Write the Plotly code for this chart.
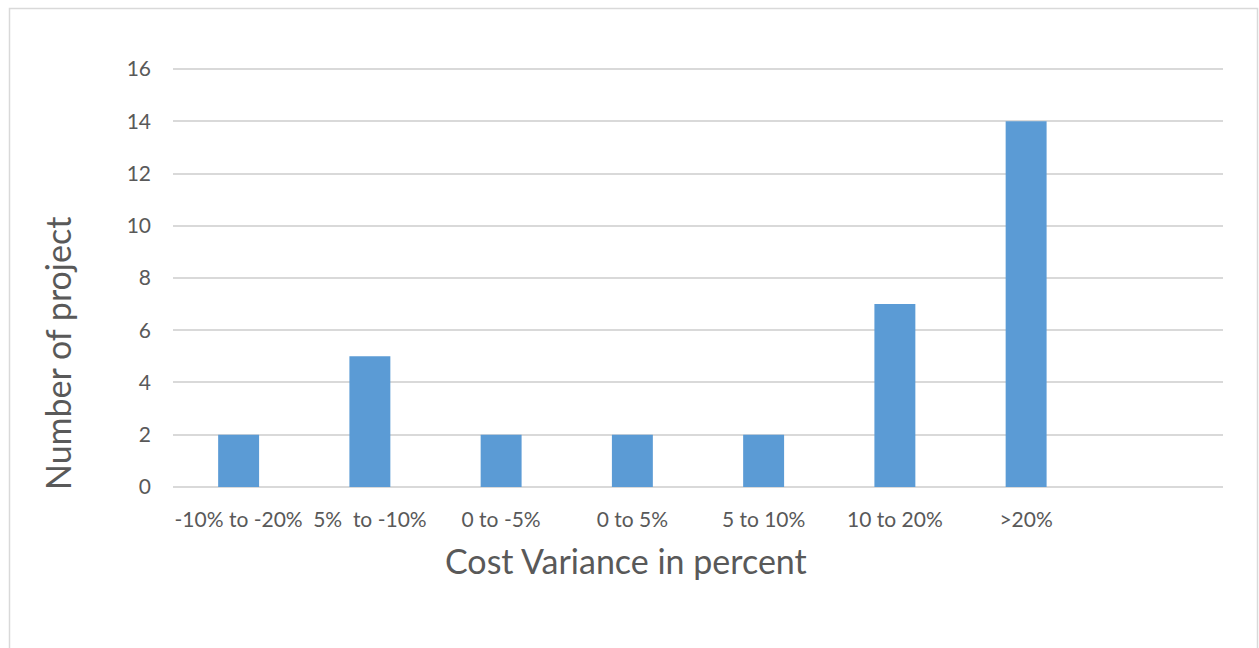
import plotly.graph_objects as go

# Cost variance buckets and number of projects in each
categories = ["-10% to -20%", "5%\u00a0\u00a0to -10%", "0 to -5%", "0 to 5%",
              "5 to 10%", "10 to 20%", ">20%", " "]
projects = [2, 5, 2, 2, 2, 7, 14, None]
y_ticks = [0, 2, 4, 6, 8, 10, 12, 14, 16]

W, H = 1259, 648
L, R, T, B = 173, 36, 68, 160
pw, ph = W - L - R, H - T - B


def px_x(x):
    return (x - L) / pw


def px_y(y):
    return (H - B - y) / ph


title_font = dict(size=34, color="#595959", family="Lato, Open Sans, sans-serif")

fig = go.Figure(go.Bar(
    x=categories, y=projects,
    marker=dict(color="#5b9bd5", line=dict(width=0)),
    hoverinfo="x+y",
))

fig.update_layout(
    width=W, height=H,
    margin=dict(l=L, r=R, t=T, b=B),
    paper_bgcolor="white", plot_bgcolor="white",
    bargap=0.688,
    showlegend=False,
    font=dict(family="Lato, Open Sans, sans-serif", color="#595959"),
    xaxis=dict(
        type="category",
        showgrid=False, zeroline=False, showline=False, ticks="",
        tickfont=dict(size=21, color="#595959"),
        ticklabelstandoff=17,
    ),
    yaxis=dict(
        range=[-0.04, 16.04], tickvals=y_ticks,
        showgrid=True, gridcolor="#d9d9d9", gridwidth=1.5,
        zeroline=False, showline=False, ticks="",
        tickfont=dict(size=21, color="#595959"),
        ticklabelstandoff=21,
    ),
    annotations=[
        dict(text="Cost Variance in percent", xref="paper", yref="paper",
             x=px_x(626), y=px_y(560), xanchor="center", yanchor="middle",
             showarrow=False, font=title_font),
        dict(text="Number of project", xref="paper", yref="paper",
             x=px_x(57), y=px_y(354), xanchor="center", yanchor="middle",
             textangle=-90, showarrow=False, font=title_font),
    ],
    shapes=[dict(
        type="rect", xref="paper", yref="paper",
        x0=px_x(9.5), x1=px_x(1257.5), y0=px_y(660), y1=px_y(8.5),
        line=dict(color="#d9d9d9", width=1.5), fillcolor="rgba(0,0,0,0)",
        layer="below",
    )],
)

fig.write_html("out.html")
